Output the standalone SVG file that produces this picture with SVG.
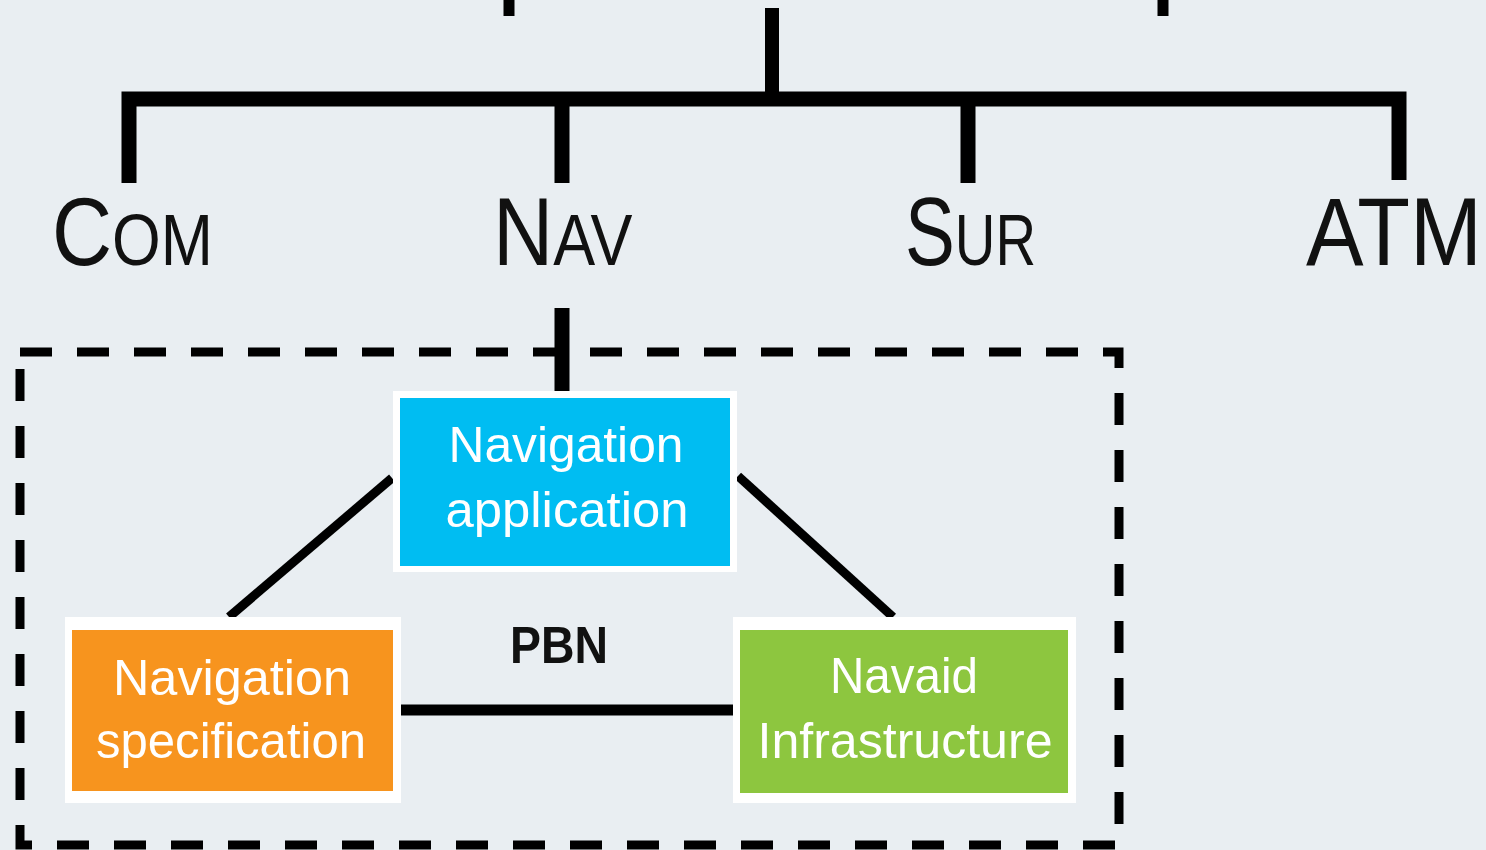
<svg xmlns="http://www.w3.org/2000/svg" width="1486" height="850" viewBox="0 0 1486 850">
  <style>
    .wire { fill: none; stroke: #000; stroke-linecap: butt; stroke-linejoin: miter; }
    .head { font-family: "Liberation Sans", Arial, sans-serif; fill: #111; }
    .boxtxt { font-family: "Liberation Sans", Arial, sans-serif; font-size: 50px; fill: #fff; text-anchor: middle; }
    .frame { fill: #fff; }
    .pbn { font-family: "Liberation Sans", Arial, sans-serif; font-size: 52px; font-weight: bold; fill: #111; }
  </style>
  <rect width="1486" height="850" fill="#E9EEF2"/>

  <g id="connectors">
    <!-- stubs from the level above -->
    <path class="wire" d="M509,0 V16" stroke-width="11"/>
    <path class="wire" d="M1163,0 V16" stroke-width="11"/>
    <path class="wire" d="M772,8 V99" stroke-width="14"/>
    <!-- branch bar to the four domains -->
    <path class="wire" d="M129,183 V99 H1399 V180" stroke-width="15"/>
    <path class="wire" d="M562,99 V183" stroke-width="15"/>
    <path class="wire" d="M968,99 V183" stroke-width="15"/>
    <!-- Nav to the PBN group -->
    <path class="wire" d="M562,308 V391" stroke-width="15"/>
    <!-- PBN triangle -->
    <path class="wire" d="M392,478 L229,617" stroke-width="9"/>
    <path class="wire" d="M738,476 L893,617" stroke-width="9"/>
    <path class="wire" d="M401,710 H733" stroke-width="11"/>
  </g>

  <g id="pbn-group">
    <path d="M20,352 H1119 V845 H20 Z" fill="none" stroke="#000" stroke-width="9" stroke-dasharray="32 25"/>
    <text class="pbn" x="510" y="663" textLength="98" lengthAdjust="spacingAndGlyphs">PBN</text>
  </g>

  <!-- domain headings in condensed small caps -->
  <g id="com">
    <text class="head" transform="translate(52,265) scale(0.858,1)"><tspan font-size="97">C</tspan><tspan font-size="73">OM</tspan></text>
  </g>
  <g id="nav">
    <text class="head" transform="translate(493,265) scale(0.861,1)"><tspan font-size="97">N</tspan><tspan font-size="73">AV</tspan></text>
  </g>
  <g id="sur">
    <text class="head" transform="translate(905,265) scale(0.77,1)"><tspan font-size="97">S</tspan><tspan font-size="73">UR</tspan></text>
  </g>
  <g id="atm">
    <text class="head" font-size="97" transform="translate(1306,265) scale(0.89,1)">ATM</text>
  </g>

  <g id="navigation-application">
    <rect class="frame" x="393" y="391" width="344" height="181"/>
    <rect x="400" y="398" width="330" height="168" fill="#00BDF2"/>
    <text class="boxtxt" x="566" y="462" textLength="235" lengthAdjust="spacingAndGlyphs">Navigation</text>
    <text class="boxtxt" x="567" y="527" textLength="243" lengthAdjust="spacingAndGlyphs">application</text>
  </g>

  <g id="navigation-specification">
    <rect class="frame" x="65" y="617" width="336" height="186"/>
    <rect x="72" y="630" width="321" height="161" fill="#F7941E"/>
    <text class="boxtxt" x="232" y="695" textLength="238" lengthAdjust="spacingAndGlyphs">Navigation</text>
    <text class="boxtxt" x="231" y="758" textLength="270" lengthAdjust="spacingAndGlyphs">specification</text>
  </g>

  <g id="navaid-infrastructure">
    <rect class="frame" x="733" y="617" width="343" height="186"/>
    <rect x="740" y="630" width="328" height="163" fill="#8DC63F"/>
    <text class="boxtxt" x="904" y="693" textLength="148" lengthAdjust="spacingAndGlyphs">Navaid</text>
    <text class="boxtxt" x="905" y="758" textLength="295" lengthAdjust="spacingAndGlyphs">Infrastructure</text>
  </g>
</svg>
